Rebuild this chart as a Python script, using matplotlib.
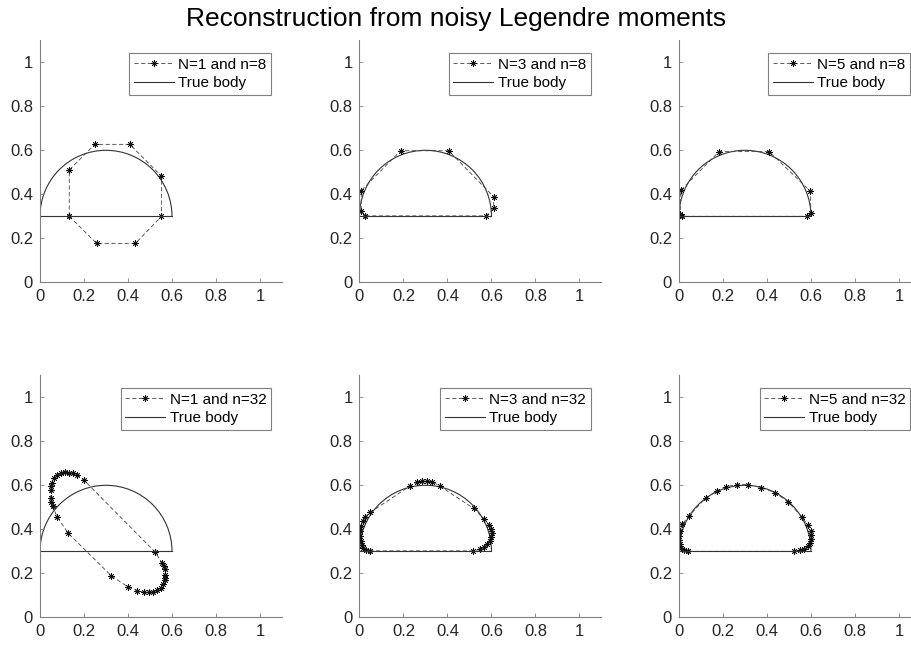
import numpy as np
import matplotlib
matplotlib.use("Agg")
import matplotlib.pyplot as plt
from matplotlib.patches import Arc

plt.rcParams['font.family'] = ['Liberation Sans', 'DejaVu Sans']

# true body: half disc, centre (0.3, 0.3), radius 0.3
body_cx, body_cy, body_r = 0.3, 0.3, 0.3

# reconstructed contours (closed polygons)
rec_1_8_x = [0.133, 0.133, 0.249, 0.408, 0.552, 0.552, 0.434, 0.257]
rec_1_8_y = [0.300, 0.511, 0.627, 0.627, 0.483, 0.300, 0.177, 0.177]

rec_3_8_x = [0.023, 0.008, 0.008, 0.187, 0.405, 0.610, 0.610, 0.574]
rec_3_8_y = [0.302, 0.324, 0.417, 0.598, 0.598, 0.389, 0.336, 0.302]

rec_5_8_x = [0.013, 0.006, 0.008, 0.182, 0.410, 0.596, 0.600, 0.584]
rec_5_8_y = [0.300, 0.310, 0.418, 0.594, 0.594, 0.415, 0.313, 0.300]

rec_1_32_x = [0.057, 0.050, 0.048, 0.048, 0.051, 0.054, 0.063, 0.076, 0.094, 0.113,
              0.133, 0.151, 0.169, 0.200, 0.522, 0.555, 0.563, 0.567, 0.570, 0.569,
              0.567, 0.559, 0.549, 0.532, 0.514, 0.494, 0.472, 0.441, 0.398, 0.324,
              0.128, 0.077]
rec_1_32_y = [0.506, 0.525, 0.544, 0.579, 0.595, 0.609, 0.632, 0.645, 0.655, 0.659,
              0.658, 0.655, 0.645, 0.623, 0.298, 0.248, 0.232, 0.218, 0.192, 0.180,
              0.170, 0.150, 0.135, 0.124, 0.117, 0.114, 0.114, 0.121, 0.139, 0.189,
              0.382, 0.458]

rec_3_32_x = [0.049, 0.030, 0.018, 0.011, 0.005, 0.003, 0.003, 0.006, 0.014, 0.026,
              0.049, 0.231, 0.261, 0.284, 0.307, 0.330, 0.364, 0.519, 0.568, 0.589,
              0.598, 0.601, 0.600, 0.592, 0.580, 0.565, 0.547, 0.516]
rec_3_32_y = [0.302, 0.306, 0.317, 0.329, 0.348, 0.370, 0.392, 0.415, 0.439, 0.458,
              0.477, 0.598, 0.614, 0.618, 0.620, 0.617, 0.597, 0.495, 0.445, 0.420,
              0.400, 0.382, 0.364, 0.345, 0.332, 0.321, 0.309, 0.302]

rec_5_32_x = [0.041, 0.023, 0.011, 0.003, 0.000, 0.000, 0.005, 0.015, 0.046, 0.121,
              0.172, 0.213, 0.263, 0.314, 0.375, 0.436, 0.494, 0.557, 0.585, 0.600,
              0.601, 0.600, 0.594, 0.585, 0.569, 0.551, 0.524]
rec_5_32_y = [0.300, 0.306, 0.317, 0.333, 0.352, 0.370, 0.394, 0.423, 0.462, 0.541,
              0.574, 0.594, 0.603, 0.603, 0.589, 0.567, 0.526, 0.458, 0.420, 0.394,
              0.374, 0.358, 0.339, 0.324, 0.312, 0.305, 0.300]

panels = [
    (rec_1_8_x, rec_1_8_y, 'N=1 and n=8'),
    (rec_3_8_x, rec_3_8_y, 'N=3 and n=8'),
    (rec_5_8_x, rec_5_8_y, 'N=5 and n=8'),
    (rec_1_32_x, rec_1_32_y, 'N=1 and n=32'),
    (rec_3_32_x, rec_3_32_y, 'N=3 and n=32'),
    (rec_5_32_x, rec_5_32_y, 'N=5 and n=32'),
]

ticks = [0, 0.2, 0.4, 0.6, 0.8, 1]
tick_labels = ['0', '0.2', '0.4', '0.6', '0.8', '1']

W, H = 912, 648
fig = plt.figure(figsize=(W / 100, H / 100), dpi=100)

# pixel layout (the source figure is cropped on the right)
lefts = [40, 359.5, 679]
bottoms = [282.3, 617.3]
size = 242

gray = '#808080'
txt = '#262626'

for k, (xs, ys, lab) in enumerate(panels):
    r, c = divmod(k, 3)
    ax = fig.add_axes([lefts[c] / W, (H - bottoms[r]) / H, size / W, size / H])
    xs_c = list(xs) + [xs[0]]
    ys_c = list(ys) + [ys[0]]
    ax.plot(xs_c, ys_c, linestyle=(0, (5, 3)), color='#444444', lw=0.6,
            marker=(8, 2, 0), ms=4.5, mec='#111111', mew=0.6, label=lab)
    ax.plot([body_cx - body_r, body_cx + body_r], [body_cy, body_cy],
            color='#333333', lw=0.8, label='True body')
    ax.add_patch(Arc((body_cx, body_cy), 2 * body_r, 2 * body_r,
                     theta1=0, theta2=180, color='#333333', lw=0.8))
    ax.set_xlim(0, 1.1)
    ax.set_ylim(0, 1.1)
    ax.set_xticks(ticks, tick_labels)
    ax.set_yticks(ticks, tick_labels)
    ax.tick_params(direction='in', length=3, width=0.6, color=gray,
                   labelsize=12, labelcolor=txt, pad=5)
    for s in ['top', 'right']:
        ax.spines[s].set_visible(False)
    for s in ['left', 'bottom']:
        ax.spines[s].set_color(gray)
        ax.spines[s].set_linewidth(0.8)
    leg = ax.legend(loc='upper right', bbox_to_anchor=(0.955, 0.947),
                    borderaxespad=0, fontsize=11, handlelength=2.6,
                    handletextpad=0.3, labelspacing=0.3, borderpad=0.3,
                    fancybox=False, framealpha=1, edgecolor=gray)
    leg.get_frame().set_linewidth(0.8)
    for t in leg.get_texts():
        t.set_color('black')

fig.text(456 / W, 1 - 19 / H, 'Reconstruction from noisy Legendre moments',
         ha='center', va='center', fontsize=19, color='black')

fig.savefig('out.png', dpi=100)
